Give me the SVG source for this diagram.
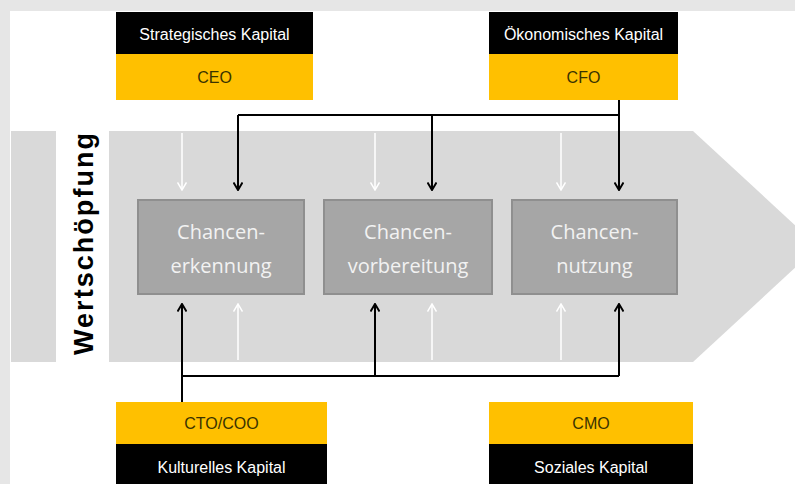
<svg xmlns="http://www.w3.org/2000/svg" width="795" height="484" viewBox="0 0 795 484">
<defs>
<style>
.lbl{font-family:"Liberation Sans",Arial,sans-serif;font-size:16px;text-anchor:middle;dominant-baseline:central}
.w{fill:#ffffff}
.d{fill:#3a3300}
.proc{fill:#a6a6a6;stroke:#8f8f8f;stroke-width:2}
.pt{font-family:"Open Sans","Liberation Sans",sans-serif;font-size:20px;fill:#f2f2f2;text-anchor:middle}
.blk{stroke:#000;stroke-width:2;fill:none}
.wht{stroke:#fff;stroke-width:1.5;fill:none}
</style>
<marker id="ab" viewBox="0 0 10 10" refX="9" refY="5" markerWidth="10" markerHeight="10" markerUnits="userSpaceOnUse" orient="auto">
<path d="M1.5,0.5 L9,5 L1.5,9.5" fill="none" stroke="#000" stroke-width="2"/>
</marker>
<marker id="aw" viewBox="0 0 10 10" refX="9" refY="5" markerWidth="10" markerHeight="10" markerUnits="userSpaceOnUse" orient="auto">
<path d="M1.5,0.5 L9,5 L1.5,9.5" fill="none" stroke="#fff" stroke-width="1.5"/>
</marker>
</defs>
<rect x="0" y="0" width="795" height="484" fill="#e6e6e6"/>
<rect x="10" y="11" width="785" height="473" fill="#ffffff"/>
<g id="valuechain">
<rect x="11" y="131" width="45" height="231" fill="#d9d9d9"/>
<polygon points="109,131 693,131 818,246.5 693,362 109,362" fill="#d9d9d9"/>
<text transform="translate(93,244) rotate(-90)" font-family="'Liberation Sans',Arial,sans-serif" font-weight="bold" font-size="27" text-anchor="middle" fill="#000" textLength="222">Wertschöpfung</text>
</g>
<g id="connectors">
<path class="wht" d="M182,133 V190" marker-end="url(#aw)"/>
<path class="wht" d="M375,133 V190" marker-end="url(#aw)"/>
<path class="wht" d="M561,133 V190" marker-end="url(#aw)"/>
<path class="wht" d="M238,360 V304" marker-end="url(#aw)"/>
<path class="wht" d="M432,360 V304" marker-end="url(#aw)"/>
<path class="wht" d="M561,360 V304" marker-end="url(#aw)"/>
<path class="blk" d="M238,115 H619"/>
<path class="blk" d="M619,100 V190" marker-end="url(#ab)"/>
<path class="blk" d="M238,115 V190" marker-end="url(#ab)"/>
<path class="blk" d="M432,115 V190" marker-end="url(#ab)"/>
<path class="blk" d="M182,376 H619"/>
<path class="blk" d="M182,402 V304" marker-end="url(#ab)"/>
<path class="blk" d="M375,376 V304" marker-end="url(#ab)"/>
<path class="blk" d="M619,376 V304" marker-end="url(#ab)"/>
</g>
<g id="ceo">
<rect x="116" y="12" width="197" height="42" fill="#000"/>
<rect x="116" y="54" width="197" height="46" fill="#ffc000"/>
<text class="lbl w" x="214.5" y="34">Strategisches Kapital</text>
<text class="lbl d" x="214.5" y="77">CEO</text>
</g>
<g id="cfo">
<rect x="489" y="12" width="189" height="42" fill="#000"/>
<rect x="489" y="54" width="189" height="46" fill="#ffc000"/>
<text class="lbl w" x="583.5" y="34">Ökonomisches Kapital</text>
<text class="lbl d" x="583.5" y="77">CFO</text>
</g>
<g id="cto">
<rect x="116" y="402" width="211" height="42" fill="#ffc000"/>
<rect x="116" y="444" width="211" height="40" fill="#000"/>
<text class="lbl d" x="221.5" y="423">CTO/COO</text>
<text class="lbl w" x="221.5" y="467">Kulturelles Kapital</text>
</g>
<g id="cmo">
<rect x="489" y="402" width="204" height="42" fill="#ffc000"/>
<rect x="489" y="444" width="204" height="40" fill="#000"/>
<text class="lbl d" x="591" y="423">CMO</text>
<text class="lbl w" x="591" y="467">Soziales Kapital</text>
</g>
<g id="erkennung">
<rect class="proc" x="138" y="200" width="166" height="94"/>
<text class="pt" x="221" y="239">Chancen-</text>
<text class="pt" x="221" y="273">erkennung</text>
</g>
<g id="vorbereitung">
<rect class="proc" x="324" y="200" width="168" height="94"/>
<text class="pt" x="408" y="239">Chancen-</text>
<text class="pt" x="408" y="273">vorbereitung</text>
</g>
<g id="nutzung">
<rect class="proc" x="512" y="200" width="165" height="94"/>
<text class="pt" x="594.5" y="239">Chancen-</text>
<text class="pt" x="594.5" y="273">nutzung</text>
</g>
</svg>
